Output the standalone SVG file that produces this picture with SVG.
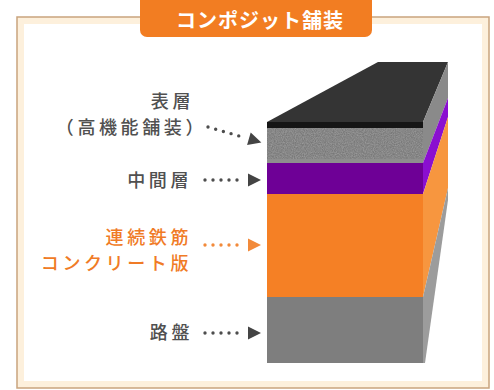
<svg xmlns="http://www.w3.org/2000/svg" width="494" height="390" viewBox="0 0 494 390">
  <defs>
    <style>
      .lbl { font-family: "Noto Sans CJK JP", "Noto Sans", sans-serif; font-size: 18px; font-weight: 500; letter-spacing: 3.6px; text-anchor: end; }
      .dark { fill: #505050; }
      .org { fill: #f07b26; }
      .dots { fill: none; stroke-width: 3.4; stroke-linecap: round; stroke-dasharray: 0 8; }
      .dots-dark { stroke: #4d4d4d; }
      .dots-org { stroke: #f28a3a; }
      .title { font-family: "Noto Sans CJK JP", "Noto Sans", sans-serif; font-size: 20px; font-weight: 700; fill: #ffffff; text-anchor: middle; letter-spacing: 1px; }
    </style>
    <marker id="arrow-dark" markerUnits="userSpaceOnUse" markerWidth="20" markerHeight="20" refX="0" refY="0" viewBox="-2 -8 20 16" orient="auto">
      <path d="M3,-6.5 L16,0 L3,6.5 Z" fill="#444444"/>
    </marker>
    <marker id="arrow-org" markerUnits="userSpaceOnUse" markerWidth="20" markerHeight="20" refX="0" refY="0" viewBox="-2 -8 20 16" orient="auto">
      <path d="M3,-6.5 L16,0 L3,6.5 Z" fill="#f28a3a"/>
    </marker>
    <!-- speckle texture for the asphalt surface course -->
    <filter id="grain" x="0" y="0" width="100%" height="100%">
      <feTurbulence type="fractalNoise" baseFrequency="0.9" numOctaves="2" seed="3" result="n"/>
      <feColorMatrix in="n" type="matrix" values="0 0 0 0 0.45  0 0 0 0 0.45  0 0 0 0 0.45  0 0 0 0.9 -0.2" result="g"/>
      <feComposite in="g" in2="SourceGraphic" operator="in"/>
    </filter>
  </defs>

  <rect width="494" height="390" fill="#ffffff"/>

  <!-- outer frame -->
  <g id="frame">
    <rect x="20.5" y="20.5" width="465" height="364" fill="none" stroke="#fdf0dc" stroke-width="7"/>
    <rect x="17" y="17" width="472" height="371" fill="none" stroke="#c9a47e" stroke-width="1.5"/>
  </g>

  <!-- title tab -->
  <g id="title">
    <rect x="140" y="-8" width="232" height="45" rx="7" fill="#f27d22"/>
    <text class="title" x="260" y="28">コンポジット舗装</text>
  </g>

  <!-- pavement block -->
  <g id="block">
    <polygon points="267,122 378,62 448,62 423,122" fill="#343434"/>
    <rect x="267" y="122" width="156" height="6" fill="#151515"/>
    <rect x="267" y="128" width="156" height="35" fill="#787878"/>
    <rect x="267" y="128" width="156" height="33" fill="#787878" filter="url(#grain)"/>
    <rect x="267" y="159" width="156" height="4" fill="#8e8e8e"/>
    <rect x="267" y="163" width="156" height="31" fill="#6e0096"/>
    <rect x="267" y="194" width="156" height="103" fill="#f58025"/>
    <rect x="267" y="297" width="156" height="66" fill="#7e7e7e"/>
    <!-- side face -->
    <polygon points="423,122 448,62 448,98 423,163" fill="#8a8a8a"/>
    <polygon points="423,163 448,98 448,117 423,194" fill="#8a0fd0"/>
    <polygon points="423,194 448,117 448,188 423,297" fill="#f7963f"/>
    <polygon points="423,297 448,188 448,200 425,363 423,363" fill="#9c9c9c"/>
  </g>

  <!-- layer labels -->
  <g id="label-surface">
    <text class="lbl dark" x="194" y="108">表層</text>
    <text class="lbl dark" x="207" y="134">（高機能舗装）</text>
  </g>
  <g id="label-intermediate">
    <text class="lbl dark" x="192" y="187">中間層</text>
  </g>
  <g id="label-slab">
    <text class="lbl org" x="192" y="244">連続鉄筋</text>
    <text class="lbl org" x="192" y="270">コンクリート版</text>
  </g>
  <g id="label-subgrade">
    <text class="lbl dark" x="193" y="339">路盤</text>
  </g>

  <!-- leader lines -->
  <g id="connectors">
    <path class="dots dots-dark" d="M208,127 L246,138" marker-end="url(#arrow-dark)"/>
    <path class="dots dots-dark" d="M205,180 L245,180" marker-end="url(#arrow-dark)"/>
    <path class="dots dots-org" d="M205,245 L245,245" marker-end="url(#arrow-org)"/>
    <path class="dots dots-dark" d="M205,333 L245,333" marker-end="url(#arrow-dark)"/>
  </g>
</svg>
